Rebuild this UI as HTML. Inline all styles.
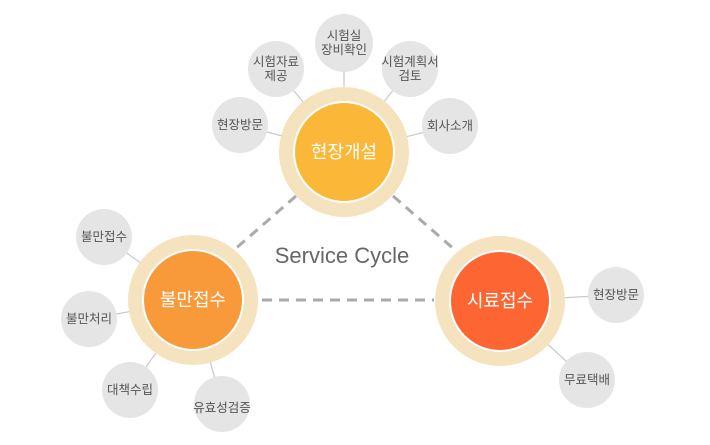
<!DOCTYPE html>
<html><head><meta charset="utf-8"><style>
body{margin:0;background:#fff}
svg text{font-family:"Liberation Sans","Noto Sans CJK KR",sans-serif}
</style></head><body>
<svg width="710" height="440" xmlns="http://www.w3.org/2000/svg">
<g stroke="#aaa" stroke-width="3" stroke-dasharray="10,7" fill="none">
<line x1="296" y1="196" x2="234" y2="250"/>
<line x1="393" y1="196" x2="455" y2="250"/>
<line x1="262" y1="300" x2="434" y2="300"/>
</g>
<g stroke="#c8c8c8" stroke-width="1.2">
<line x1="344" y1="152" x2="240" y2="125"/>
<line x1="344" y1="152" x2="276" y2="69"/>
<line x1="344" y1="152" x2="344" y2="43"/>
<line x1="344" y1="152" x2="410" y2="69"/>
<line x1="344" y1="152" x2="450" y2="126"/>
<line x1="193" y1="300" x2="104" y2="237"/>
<line x1="193" y1="300" x2="89" y2="319"/>
<line x1="193" y1="300" x2="130" y2="390"/>
<line x1="193" y1="300" x2="222" y2="404"/>
<line x1="500" y1="301" x2="616" y2="295"/>
<line x1="500" y1="301" x2="587" y2="380"/>
</g>
<g fill="#e5e5e5">
<circle cx="240" cy="125" r="28"/><circle cx="276" cy="69" r="28"/><circle cx="344" cy="43" r="29"/>
<circle cx="410" cy="69" r="28"/><circle cx="450" cy="126" r="28"/>
<circle cx="104" cy="237" r="28"/><circle cx="89" cy="319" r="28"/><circle cx="130" cy="390" r="28"/><circle cx="222" cy="404" r="28"/>
<circle cx="616" cy="295" r="28"/><circle cx="587" cy="380" r="28"/>
</g>
<g fill="#f5e3c0"><circle cx="344" cy="152" r="65"/><circle cx="193" cy="300" r="65"/><circle cx="500" cy="301" r="65"/></g>
<g stroke="#fff" stroke-width="2">
<circle cx="344" cy="152" r="50" fill="#fbb737"/>
<circle cx="193" cy="300" r="50" fill="#f99a3a"/>
<circle cx="500" cy="301" r="50" fill="#fd6633"/>
</g>
<g fill="#fff" font-size="18" text-anchor="middle">
<text x="344" y="158">현장개설</text><text x="193" y="306">불만접수</text><text x="500" y="307">시료접수</text>
</g>
<text x="342" y="263" font-size="22" fill="#666" text-anchor="middle">Service Cycle</text>
<g fill="#555" font-size="12.5" text-anchor="middle">
<text x="240" y="129">현장방문</text>
<text x="276" y="66">시험자료</text><text x="276" y="80">제공</text>
<text x="344" y="40">시험실</text><text x="344" y="54">장비확인</text>
<text x="410" y="66">시험계획서</text><text x="410" y="80">검토</text>
<text x="450" y="130">회사소개</text>
<text x="104" y="241">불만접수</text><text x="89" y="323">불만처리</text>
<text x="130" y="394">대책수립</text><text x="222" y="412">유효성검증</text>
<text x="616" y="299">현장방문</text><text x="587" y="384">무료택배</text>
</g>
</svg>
</body></html>
